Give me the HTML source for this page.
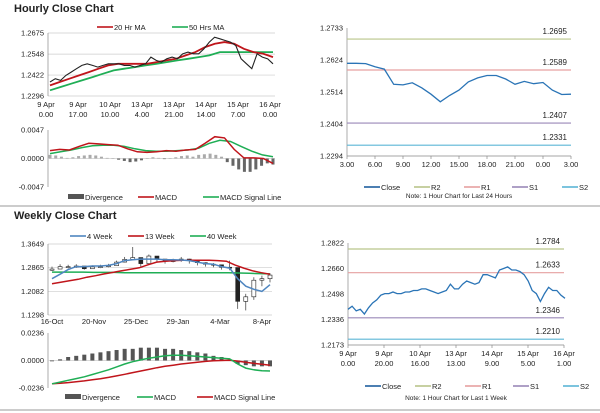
<!DOCTYPE html>
<html><head><meta charset="utf-8"><style>
html,body{margin:0;padding:0;background:#fff;}
svg{display:block;font-family:"Liberation Sans",sans-serif;}
text{fill:#222;font-size:7.5px;}
</style></head><body>
<svg id="c" width="600" height="413" viewBox="0 0 600 413"></svg>
<script>
// ---- Hourly close chart data ----
const hCloseVals=[1.238,1.240,1.239,1.242,1.244,1.246,1.248,1.249,1.248,1.247,1.248,1.249,1.249,1.249,1.248,1.248,1.247,1.248,1.249,1.253,1.251,1.250,1.252,1.253,1.252,1.255,1.256,1.255,1.255,1.258,1.262,1.265,1.264,1.263,1.262,1.260,1.252,1.249,1.246,1.255,1.253,1.252,1.249];
const hMA20=[1.236,1.238,1.240,1.242,1.244,1.246,1.248,1.249,1.249,1.249,1.249,1.250,1.251,1.252,1.254,1.256,1.259,1.261,1.262,1.261,1.258,1.256,1.255,1.253];
const hMA50=[1.233,1.235,1.237,1.239,1.241,1.243,1.245,1.246,1.247,1.248,1.249,1.250,1.251,1.252,1.253,1.254,1.256,1.256,1.256,1.256,1.256,1.256];
const hTicksY=["1.2296","1.2422","1.2548","1.2675"];
const hTicksX=[["9 Apr","0.00"],["9 Apr","17.00"],["10 Apr","10.00"],["13 Apr","4.00"],["13 Apr","21.00"],["14 Apr","14.00"],["15 Apr","7.00"],["16 Apr","0.00"]];
const hMacd=[0.0013,0.0015,0.0014,0.0020,0.0025,0.0024,0.0023,0.0022,0.0016,0.0011,0.0010,0.0011,0.0013,0.0012,0.0014,0.0015,0.0025,0.0036,0.0034,0.0015,0.0001,0.0001,0.0000,-0.0008];
const hSignal=[0.0008,0.0011,0.0014,0.0018,0.0021,0.0022,0.0022,0.0020,0.0016,0.0013,0.0012,0.0012,0.0013,0.0014,0.0017,0.0025,0.0030,0.0028,0.0020,0.0012,0.0006,0.0003];
const hDiv=[0.0006,0.0005,0.0003,0.0001,0.0002,0.0004,0.0005,0.0006,0.0005,0.0003,0.0001,0,-0.0002,-0.0004,-0.0006,-0.0005,-0.0003,0,0.0002,0.0001,-0.0001,0,0.0002,0.0004,0.0005,0.0003,0.0006,0.0007,0.0008,0.0006,0.0003,-0.0006,-0.0012,-0.0018,-0.0022,-0.0022,-0.0018,-0.0012,-0.0008,-0.0010];
const hMacdTicks=["-0.0047","0.0000","0.0047"];
// ---- Hourly 24h chart ----
const dClose=[1.2612,1.2612,1.2611,1.2600,1.2592,1.2540,1.2538,1.2545,1.2528,1.2506,1.2480,1.2502,1.2520,1.2548,1.2562,1.2570,1.2570,1.2558,1.2540,1.2550,1.2542,1.2546,1.2520,1.2505,1.2506];
const dLevels=[["R2",1.2695,"#b9c58a"],["R1",1.2589,"#e6a0a0"],["S1",1.2407,"#9a88b8"],["S2",1.2331,"#5cb6d6"]];
const dTicksY=["1.2294","1.2404","1.2514","1.2624","1.2733"];
const dTicksX=["3.00","6.00","9.00","12.00","15.00","18.00","21.00","0.00","3.00"];
// ---- Weekly chart ----
const wClose=[1.282,1.290,1.290,1.292,1.283,1.289,1.290,1.293,1.305,1.314,1.320,1.300,1.325,1.315,1.308,1.310,1.315,1.310,1.303,1.298,1.296,1.288,1.287,1.175,1.190,1.245,1.250,1.262];
const wHigh=[1.290,1.298,1.296,1.298,1.292,1.294,1.296,1.299,1.310,1.322,1.355,1.318,1.330,1.322,1.314,1.316,1.322,1.316,1.308,1.304,1.302,1.294,1.310,1.215,1.200,1.255,1.260,1.268];
const wLow=[1.276,1.282,1.284,1.286,1.280,1.283,1.285,1.288,1.298,1.304,1.312,1.290,1.298,1.304,1.300,1.304,1.306,1.300,1.294,1.290,1.288,1.280,1.278,1.150,1.145,1.180,1.225,1.238];
const w4=[1.250,1.265,1.280,1.290,1.290,1.292,1.292,1.294,1.300,1.310,1.313,1.315,1.315,1.315,1.313,1.313,1.312,1.310,1.305,1.300,1.298,1.290,1.285,1.250,1.225,1.215,1.208,1.230];
const w13=[1.233,1.238,1.243,1.248,1.255,1.260,1.266,1.271,1.276,1.281,1.286,1.296,1.305,1.308,1.310,1.311,1.311,1.311,1.311,1.310,1.308,1.295,1.285,1.276,1.270,1.265];
const w40=[1.272,1.272,1.272,1.272,1.271,1.271,1.271,1.270,1.270,1.270,1.270,1.270,1.270,1.270,1.270,1.270,1.270,1.270,1.269,1.268,1.267,1.266];
const wTicksY=["1.1298","1.2082","1.2865","1.3649"];
const wTicksX=["16-Oct","20-Nov","25-Dec","29-Jan","4-Mar","8-Apr"];
const wMacd=[-0.0200,-0.0185,-0.0170,-0.0155,-0.0140,-0.0120,-0.0100,-0.0080,-0.0055,-0.0030,-0.0010,0.0005,0.0020,0.0030,0.0040,0.0045,0.0045,0.0040,0.0035,0.0030,0.0025,0.0020,0.0015,-0.0030,-0.0065,-0.0080,-0.0088,-0.0090];
const wSignal=[-0.0200,-0.0195,-0.0190,-0.0183,-0.0175,-0.0166,-0.0156,-0.0145,-0.0132,-0.0118,-0.0104,-0.0090,-0.0076,-0.0062,-0.0050,-0.0040,-0.0030,-0.0022,-0.0015,-0.0008,-0.0003,0.0000,0.0002,-0.0005,-0.0015,-0.0025,-0.0033,-0.0040];
const wDiv=[-0.0005,0.001,0.003,0.004,0.005,0.006,0.007,0.008,0.009,0.010,0.010,0.011,0.011,0.011,0.010,0.010,0.009,0.008,0.007,0.006,0.004,0.003,0.001,-0.003,-0.004,-0.005,-0.005,-0.005];
const wMacdTicks=["-0.0236","0.0000","0.0236"];
// ---- 1 week hourly ----
const kClose=[1.240,1.242,1.239,1.240,1.237,1.241,1.244,1.246,1.249,1.250,1.250,1.251,1.250,1.250,1.251,1.251,1.252,1.252,1.253,1.253,1.252,1.251,1.250,1.251,1.252,1.256,1.253,1.253,1.256,1.258,1.257,1.256,1.257,1.262,1.262,1.261,1.260,1.265,1.266,1.267,1.265,1.265,1.264,1.262,1.258,1.252,1.250,1.245,1.250,1.254,1.252,1.252,1.249,1.247];
const kLevels=[["R2",1.2784,"#b9c58a"],["R1",1.2633,"#e6a0a0"],["S1",1.2346,"#9a88b8"],["S2",1.2210,"#5cb6d6"]];
const kTicksY=["1.2173","1.2336","1.2498","1.2660","1.2822"];
const kTicksX=[["9 Apr","0.00"],["9 Apr","20.00"],["10 Apr","16.00"],["13 Apr","13.00"],["14 Apr","9.00"],["15 Apr","5.00"],["16 Apr","1.00"]];

const S=document.getElementById('c');const NS="http://www.w3.org/2000/svg";
function el(t,a,p){const e=document.createElementNS(NS,t);for(const k in a)e.setAttribute(k,a[k]);(p||S).appendChild(e);return e;}
function tx(x,y,s,a,p){const e=el('text',Object.assign({x:x,y:y},a||{}),p);e.textContent=s;return e;}
function lin(d0,d1,r0,r1){return v=>r0+(v-d0)/(d1-d0)*(r1-r0);}
function path(vals,sx,sy){return vals.map((v,i)=>(i?'L':'M')+sx(i).toFixed(1)+','+sy(v).toFixed(1)).join('');}
function grp(name){const g=el('g',{});return g;}

let t=tx(14,12,"Hourly Close Chart",{style:"font-size:11px;font-weight:bold"});
t=tx(14,219,"Weekly Close Chart",{style:"font-size:11px;font-weight:bold"});
el('line',{x1:0,y1:206,x2:600,y2:206,stroke:'#bbb','stroke-width':1.5});
el('line',{x1:0,y1:410,x2:600,y2:410,stroke:'#bbb','stroke-width':1.5});

function yAxis(g,ticks,sy,x0,x1,grid){ticks.forEach(s=>{const y=sy(parseFloat(s));if(grid)el('line',{x1:x0,y1:y,x2:x1,y2:y,stroke:'#ccc','stroke-width':0.7},g);tx(x0-4,y+2.5,s,{'text-anchor':'end'},g);});el('line',{x1:x0,y1:sy(parseFloat(ticks[0])),x2:x0,y2:sy(parseFloat(ticks[ticks.length-1])),stroke:'#888','stroke-width':0.7},g);}
function legend(g,items,y){items.forEach(it=>{const [x,label,col,box]=it;if(box)el('rect',{x:x,y:y-3,width:16,height:5,fill:col},g);else el('line',{x1:x,y1:y,x2:x+16,y2:y,stroke:col,'stroke-width':1.6},g);const e=tx(x+17,y+3,label,{},g);});}

(function(){const g=grp('hourly-price-chart');const x0=48,x1=275;const sy=lin(1.2296,1.2675,96,33);
yAxis(g,hTicksY,sy,x0,x1,true);
hTicksX.forEach((l,i)=>{const x=46+i*32;tx(x,107,l[0],{'text-anchor':'middle'},g);tx(x,117,l[1],{'text-anchor':'middle'},g);});
const sx=i=>x0+2+i*(x1-x0-4)/(hCloseVals.length-1);
const s50=i=>x0+2+i*(x1-x0-4)/(hMA50.length-1), s20=i=>x0+2+i*(x1-x0-4)/(hMA20.length-1);
let p=el('path',{d:path(hMA50,s50,sy),fill:'none',stroke:'#1fae55','stroke-width':1.8},g);
p=el('path',{d:path(hMA20,s20,sy),fill:'none',stroke:'#c0151b','stroke-width':1.8},g);
p=el('path',{d:path(hCloseVals,sx,sy),fill:'none',stroke:'#222','stroke-width':1.1},g);
legend(g,[[97,"20 Hr MA","#c0151b"],[172,"50 Hrs MA","#1fae55"]],27);
const g2=grp('hourly-macd-chart');const my=lin(-0.0047,0.0047,187,130);
yAxis(g2,hMacdTicks,my,x0,x1,false);
el('line',{x1:x0,y1:my(0),x2:x1,y2:my(0),stroke:'#ccc','stroke-width':0.7},g2);
const dx=i=>x0+2+i*(x1-x0-4)/(hDiv.length-1);
hDiv.forEach((v,i)=>{const r=el('rect',{x:dx(i)-1.5,y:Math.min(my(v),my(0)),width:3,height:Math.max(0.5,Math.abs(my(v)-my(0))),fill:v<0?'#666':'#aaa'},g2);});
const sm=i=>x0+2+i*(x1-x0-4)/(hMacd.length-1), ss=i=>x0+2+i*(x1-x0-4)/(hSignal.length-1);
p=el('path',{d:path(hSignal,ss,my),fill:'none',stroke:'#1fae55','stroke-width':1.5},g2);
p=el('path',{d:path(hMacd,sm,my),fill:'none',stroke:'#c0151b','stroke-width':1.5},g2);
legend(g2,[[68,"Divergence","#555",true],[138,"MACD","#c0151b"],[203,"MACD Signal Line","#1fae55"]],197);
})();

function levelChart(name,vals,levels,ticksY,ticksX,x0,x1,yTop,yBot,twoLine,noteY,note,legY,lineEnd){
const g=grp(name);const lo=parseFloat(ticksY[0]),hi=parseFloat(ticksY[ticksY.length-1]);const sy=lin(lo,hi,yBot,yTop);
yAxis(g,ticksY,sy,x0,x1,false);
el('line',{x1:x0,y1:yBot,x2:x1,y2:yBot,stroke:'#888','stroke-width':0.7},g);
const n=ticksX.length;ticksX.forEach((l,i)=>{const x=x0+i*(x1-x0)/(n-1);el('line',{x1:x,y1:yBot,x2:x,y2:yBot+3,stroke:'#888','stroke-width':0.7},g);
if(twoLine){tx(x,yBot+11,l[0],{'text-anchor':'middle'},g);tx(x,yBot+21,l[1],{'text-anchor':'middle'},g);}else tx(x,yBot+11,l,{'text-anchor':'middle'},g);});
levels.forEach(L=>{const y=sy(L[1]);const e=el('line',{x1:x0,y1:y,x2:x1,y2:y,stroke:L[2],'stroke-width':1.2},g);tx(x1-4,y-5,L[1].toFixed(4),{'text-anchor':'end','style':'font-size:8px'},g);});
const sx=i=>x0+i*(lineEnd-x0)/(vals.length-1);
const p=el('path',{d:path(vals,sx,sy),fill:'none',stroke:'#2a74b6','stroke-width':1.3},g);
legend(g,[[x0+17,"Close","#1f5f9f"],[x0+67,"R2",levels[0][2]],[x0+117,"R1",levels[1][2]],[x0+165,"S1",levels[2][2]],[x0+215,"S2",levels[3][2]]],legY);
tx((x0+x1)/2,noteY,note,{'text-anchor':'middle','style':'font-size:6.5px'},g);}
levelChart('hourly-24h-chart',dClose,dLevels,dTicksY,dTicksX,347,571,28,156,false,198,"Note: 1 Hour Chart for Last 24 Hours",187,571);
levelChart('weekly-1w-chart',kClose,kLevels,kTicksY,kTicksX,348,564,243,345,true,400,"Note: 1 Hour Chart for Last 1 Week",386,565);

(function(){const g=grp('weekly-price-chart');const x0=48,x1=272;const sy=lin(1.1298,1.3649,315,244);
yAxis(g,wTicksY,sy,x0,x1,true);
const step=(270-52)/(wClose.length-1);
const sx=i=>52+i*step;
wTicksX.forEach((l,i)=>tx(52+i*42,324,l,{'text-anchor':'middle'},g));
wClose.forEach((c,i)=>{const o=i?wClose[i-1]:c-0.004;const x=sx(i);el('line',{x1:x,y1:sy(wHigh[i]),x2:x,y2:sy(wLow[i]),stroke:'#333','stroke-width':0.7},g);
const r=el('rect',{x:x-2,y:sy(Math.max(o,c)),width:4,height:Math.max(1,Math.abs(sy(o)-sy(c))),fill:c>=o?'#fff':'#222',stroke:'#222','stroke-width':0.6},g);});
const f=a=>i=>52+i*(270-52)/(a.length-1);
let p=el('path',{d:path(w40,f(w40),sy),fill:'none',stroke:'#1fae55','stroke-width':1.5},g);
p=el('path',{d:path(w13,f(w13),sy),fill:'none',stroke:'#c0151b','stroke-width':1.5},g);
p=el('path',{d:path(w4,f(w4),sy),fill:'none',stroke:'#4f86c0','stroke-width':1.5},g);
legend(g,[[70,"4 Week","#4f86c0"],[128,"13 Week","#c0151b"],[190,"40 Week","#1fae55"]],236);
const g2=grp('weekly-macd-chart');const my=lin(-0.0236,0.0236,388,333);
yAxis(g2,wMacdTicks,my,x0,x1,false);
el('line',{x1:x0,y1:my(0),x2:x1,y2:my(0),stroke:'#ccc','stroke-width':0.7},g2);
const bx=i=>52+i*(270-52)/(wDiv.length-1);
wDiv.forEach((v,i)=>{const r=el('rect',{x:bx(i)-2,y:Math.min(my(v),my(0)),width:4,height:Math.max(0.8,Math.abs(my(v)-my(0))),fill:'#555'},g2);});
p=el('path',{d:path(wSignal,f(wSignal),my),fill:'none',stroke:'#c0151b','stroke-width':1.5},g2);
p=el('path',{d:path(wMacd,f(wMacd),my),fill:'none',stroke:'#1fae55','stroke-width':1.5},g2);
legend(g2,[[65,"Divergence","#555",true],[137,"MACD","#1fae55"],[197,"MACD Signal Line","#c0151b"]],397);
})();
</script>
</body></html>
